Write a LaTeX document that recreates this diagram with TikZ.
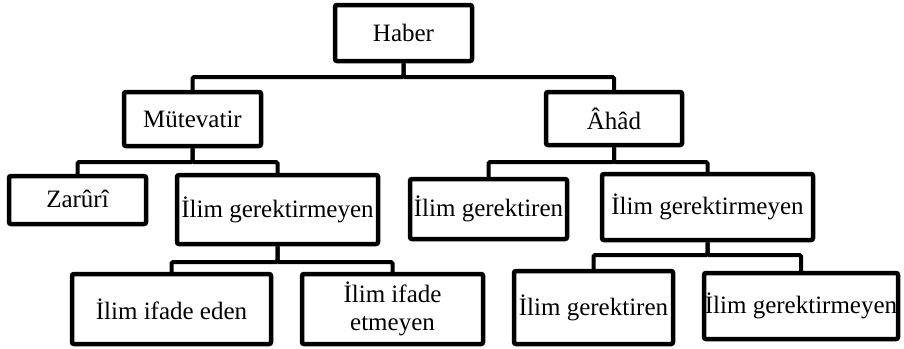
\documentclass[tikz,border=0pt]{standalone}
\usepackage{fontspec}
\setmainfont{Liberation Serif}
\begin{document}
\begin{tikzpicture}[x=1pt,y=-1pt,
  box/.style={draw, line width=4.5pt, rounded corners=2pt, inner sep=0pt, align=center,
    font=\fontsize{25}{28}\selectfont},
  conn/.style={line width=4pt, rounded corners=1.5pt}]
\useasboundingbox (0,0) rectangle (904,348);
\node[box, minimum width=137pt, minimum height=56pt] (haber) at (403.5,33) {Haber};
\node[box, minimum width=137pt, minimum height=54pt] (mut) at (192.5,119) {Mütevatir};
\node[box, minimum width=136pt, minimum height=53pt] (ahad) at (614,118.5) {Âhâd};
\node[box, minimum width=137pt, minimum height=48pt] (zar) at (77.5,200) {\raisebox{2pt}{Zarûrî}};
\node[box, minimum width=201pt, minimum height=69pt] (gerL) at (277.5,209.5) {İlim gerektirmeyen};
\node[box, minimum width=199pt, minimum height=70pt] (eden) at (171.5,309) {İlim ifade eden};
\node[box, minimum width=181pt, minimum height=70pt] (etmeyen) at (392.5,309) {İlim ifade\\etmeyen};
\node[box, minimum width=157pt, minimum height=60pt] (gerenM) at (488.5,209) {İlim gerektiren};
\node[box, minimum width=211pt, minimum height=66pt] (germR) at (707.5,207) {İlim gerektirmeyen};
\node[box, minimum width=159pt, minimum height=73pt] (gerenB) at (593.5,307.5) {İlim gerektiren};
\node[box, minimum width=194pt, minimum height=66pt] (germB) at (801,306) {İlim gerektirmeyen};

\draw[conn] (haber.south) -- (haber.south |- 0,77) -| (mut.north);
\draw[conn] (haber.south) -- (haber.south |- 0,77) -| (ahad.north);
\draw[conn] (mut.south) -- (mut.south |- 0,162) -| (zar.north);
\draw[conn] (mut.south) -- (mut.south |- 0,162) -| (gerL.north);
\draw[conn] (ahad.south) -- (ahad.south |- 0,162) -| (gerenM.north);
\draw[conn] (ahad.south) -- (ahad.south |- 0,162) -| (germR.north);
\draw[conn] (gerL.south) -- (gerL.south |- 0,262) -| (eden.north);
\draw[conn] (gerL.south) -- (gerL.south |- 0,262) -| (etmeyen.north);
\draw[conn] (germR.south) -- (germR.south |- 0,255) -| (gerenB.north);
\draw[conn] (germR.south) -- (germR.south |- 0,255) -| (germB.north);
\end{tikzpicture}
\end{document}
